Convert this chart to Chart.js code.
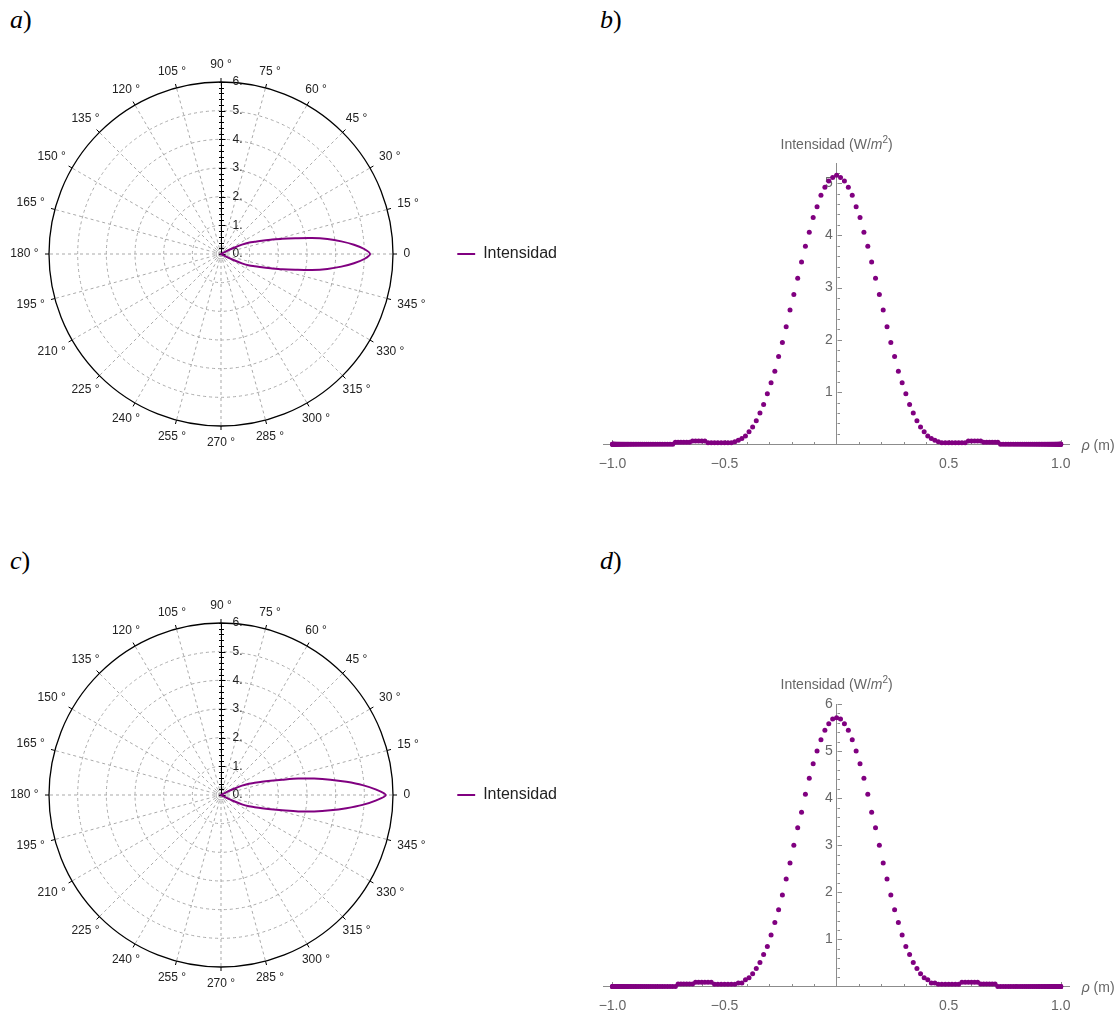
<!DOCTYPE html>
<html>
<head>
<meta charset="utf-8">
<title>Intensidad</title>
<script src="https://cdn.jsdelivr.net/npm/chart.js@4.4.1/dist/chart.umd.min.js"></script>
<style>
  html, body { margin: 0; padding: 0; background: #fff; }
  body { width: 1120px; height: 1011px; position: relative; overflow: hidden; }
  canvas { position: absolute; }
  .panel-label { position: absolute; font-family: "Liberation Serif", serif; font-size: 26px; line-height: 26px; color: #000; }
</style>
</head>
<body>
<div class="panel-label" style="left:10px;top:7px"><i>a</i>)</div>
<div class="panel-label" style="left:600px;top:7px"><i>b</i>)</div>
<div class="panel-label" style="left:10px;top:548px"><i>c</i>)</div>
<div class="panel-label" style="left:600px;top:548px"><i>d</i>)</div>

<canvas id="polarA" width="582" height="432" style="left:-14px;top:38px"></canvas>
<canvas id="scatterB" width="540" height="370" style="left:580px;top:120px"></canvas>
<canvas id="polarC" width="582" height="432" style="left:-14px;top:579px"></canvas>
<canvas id="scatterD" width="540" height="351" style="left:580px;top:660px"></canvas>

<script>
const PURPLE = '#800080';
const AXIS_GRAY = '#8c8c8c';
const TICK_GRAY = '#666';

// polar panels a) and c): radius of the lobe against angle (degrees)
const lobeAngles = [-32, -30, -28, -26, -24, -22, -20, -18, -16, -14, -12, -10, -8, -6, -4, -2, 0,
    2, 4, 6, 8, 10, 12, 14, 16, 18, 20, 22, 24, 26, 28, 30, 32];
const lobeA = [0, 0.05, 0.2, 0.46, 0.8, 1.07, 1.25, 1.5, 1.8, 2.2, 2.65, 3.22, 3.75, 4.22, 4.65, 5.0, 5.2,
    5.0, 4.65, 4.22, 3.75, 3.22, 2.65, 2.2, 1.8, 1.5, 1.25, 1.07, 0.8, 0.46, 0.2, 0.05, 0];
const lobeC = [0, 0.05, 0.2, 0.46, 0.8, 1.05, 1.25, 1.5, 1.8, 2.2, 2.75, 3.3, 3.85, 4.4, 4.95, 5.42, 5.75,
    5.42, 4.95, 4.4, 3.85, 3.3, 2.75, 2.2, 1.8, 1.5, 1.25, 1.05, 0.8, 0.46, 0.2, 0.05, 0];
const angleTickLabels = ['0', '15 °', '30 °', '45 °', '60 °', '75 °', '90 °', '105 °', '120 °', '135 °',
    '150 °', '165 °', '180 °', '195 °', '210 °', '225 °', '240 °', '255 °', '270 °', '285 °', '300 °',
    '315 °', '330 °', '345 °'];
const radialTickLabels = ['0.', '1.', '2.', '3.', '4.', '5.', '6.'];

// scatter panels b) and d): rho (m) and intensity (W/m^2)
const rho = [
    -1.0, -0.9998, -0.9994, -0.9986, -0.9976, -0.9962, -0.9945, -0.9925, -0.9903, -0.9877,
    -0.9848, -0.9816, -0.9781, -0.9744, -0.9703, -0.9659, -0.9613, -0.9563, -0.9511, -0.9455,
    -0.9397, -0.9336, -0.9272, -0.9205, -0.9135, -0.9063, -0.8988, -0.8910, -0.8829, -0.8746,
    -0.8660, -0.8572, -0.8480, -0.8387, -0.8290, -0.8192, -0.8090, -0.7986, -0.7880, -0.7771,
    -0.7660, -0.7547, -0.7431, -0.7314, -0.7193, -0.7071, -0.6947, -0.6820, -0.6691, -0.6561,
    -0.6428, -0.6293, -0.6157, -0.6018, -0.5878, -0.5736, -0.5592, -0.5446, -0.5299, -0.5150,
    -0.5000, -0.4848, -0.4695, -0.4540, -0.4384, -0.4226, -0.4067, -0.3907, -0.3746, -0.3584,
    -0.3420, -0.3256, -0.3090, -0.2924, -0.2756, -0.2588, -0.2419, -0.2250, -0.2079, -0.1908,
    -0.1736, -0.1564, -0.1392, -0.1219, -0.1045, -0.0872, -0.0698, -0.0523, -0.0349, -0.0175,
    0,
    0.0175, 0.0349, 0.0523, 0.0698, 0.0872, 0.1045, 0.1219, 0.1392, 0.1564, 0.1736,
    0.1908, 0.2079, 0.2250, 0.2419, 0.2588, 0.2756, 0.2924, 0.3090, 0.3256, 0.3420,
    0.3584, 0.3746, 0.3907, 0.4067, 0.4226, 0.4384, 0.4540, 0.4695, 0.4848, 0.5000,
    0.5150, 0.5299, 0.5446, 0.5592, 0.5736, 0.5878, 0.6018, 0.6157, 0.6293, 0.6428,
    0.6561, 0.6691, 0.6820, 0.6947, 0.7071, 0.7193, 0.7314, 0.7431, 0.7547, 0.7660,
    0.7771, 0.7880, 0.7986, 0.8090, 0.8192, 0.8290, 0.8387, 0.8480, 0.8572, 0.8660,
    0.8746, 0.8829, 0.8910, 0.8988, 0.9063, 0.9135, 0.9205, 0.9272, 0.9336, 0.9397,
    0.9455, 0.9511, 0.9563, 0.9613, 0.9659, 0.9703, 0.9744, 0.9781, 0.9816, 0.9848,
    0.9877, 0.9903, 0.9925, 0.9945, 0.9962, 0.9976, 0.9986, 0.9994, 0.9998, 1.0
];
const intensityB = [
    0, 0, 0, 0, 0, 0, 0, 0, 0, 0,
    0, 0, 0, 0, 0, 0, 0, 0, 0, 0,
    0, 0, 0, 0, 0, 0, 0, 0, 0, 0,
    0, 0, 0, 0, 0, 0, 0, 0, 0, 0,
    0, 0, 0, 0, 0.04, 0.04, 0.04, 0.04, 0.04, 0.04,
    0.063, 0.063, 0.063, 0.063, 0.063, 0.03, 0.03, 0.03, 0.03, 0.03,
    0.03, 0.03, 0.03, 0.05, 0.077, 0.11, 0.16, 0.24, 0.33, 0.45,
    0.60, 0.76, 0.97, 1.18, 1.40, 1.68, 1.95, 2.25, 2.57, 2.87,
    3.18, 3.49, 3.79, 4.06, 4.34, 4.55, 4.77, 4.92, 5.04, 5.11,
    5.15,
    5.11, 5.04, 4.92, 4.77, 4.55, 4.34, 4.06, 3.79, 3.49, 3.18,
    2.87, 2.57, 2.25, 1.95, 1.68, 1.40, 1.18, 0.97, 0.76, 0.60,
    0.45, 0.33, 0.24, 0.16, 0.11, 0.077, 0.05, 0.03, 0.03, 0.03,
    0.03, 0.03, 0.03, 0.03, 0.03, 0.063, 0.063, 0.063, 0.063, 0.063,
    0.04, 0.04, 0.04, 0.04, 0.04, 0.04, 0, 0, 0, 0,
    0, 0, 0, 0, 0, 0, 0, 0, 0, 0,
    0, 0, 0, 0, 0, 0, 0, 0, 0, 0,
    0, 0, 0, 0, 0, 0, 0, 0, 0, 0,
    0, 0, 0, 0, 0, 0, 0, 0, 0, 0
];
const intensityD = [
    0, 0, 0, 0, 0, 0, 0, 0, 0, 0,
    0, 0, 0, 0, 0, 0, 0, 0, 0, 0,
    0, 0, 0, 0, 0, 0, 0, 0, 0, 0,
    0, 0, 0, 0, 0, 0, 0, 0, 0, 0,
    0, 0, 0, 0, 0, 0.05, 0.05, 0.05, 0.05, 0.05,
    0.05, 0.087, 0.087, 0.087, 0.087, 0.087, 0.087, 0.045, 0.045, 0.045,
    0.045, 0.045, 0.045, 0.045, 0.072, 0.072, 0.14, 0.185, 0.27, 0.38,
    0.51, 0.68, 0.85, 1.09, 1.36, 1.63, 1.94, 2.28, 2.62, 3.00,
    3.37, 3.70, 4.08, 4.42, 4.73, 5.00, 5.24, 5.44, 5.58, 5.68,
    5.71,
    5.68, 5.58, 5.44, 5.24, 5.00, 4.73, 4.42, 4.08, 3.70, 3.37,
    3.00, 2.62, 2.28, 1.94, 1.63, 1.36, 1.09, 0.85, 0.68, 0.51,
    0.38, 0.27, 0.185, 0.14, 0.072, 0.072, 0.045, 0.045, 0.045, 0.045,
    0.045, 0.045, 0.045, 0.087, 0.087, 0.087, 0.087, 0.087, 0.087, 0.05,
    0.05, 0.05, 0.05, 0.05, 0.05, 0, 0, 0, 0, 0,
    0, 0, 0, 0, 0, 0, 0, 0, 0, 0,
    0, 0, 0, 0, 0, 0, 0, 0, 0, 0,
    0, 0, 0, 0, 0, 0, 0, 0, 0, 0,
    0, 0, 0, 0, 0, 0, 0, 0, 0, 0
];
const rhoTicks = [-1, -0.5, 0.5, 1];
const rhoTickLabels = ['\u22121.0', '\u22120.5', '0.5', '1.0'];
const intensityTicksB = [1, 2, 3, 4, 5];
const intensityTicksD = [1, 2, 3, 4, 5, 6];

Chart.defaults.font.family = '"Liberation Sans", Arial, sans-serif';
Chart.defaults.animation = false;
Chart.defaults.events = [];

const FONT = '"Liberation Sans", Arial, sans-serif';

// draws a run of text pieces with their own fonts, centred or left aligned
function drawRich(ctx, parts, x, y, align) {
    let total = 0;
    parts.forEach(p => { ctx.font = p.font; p.w = ctx.measureText(p.text).width; total += p.w; });
    let cx = align === 'center' ? x - total / 2 : x;
    ctx.textAlign = 'left';
    ctx.textBaseline = 'middle';
    parts.forEach(p => {
        ctx.font = p.font;
        ctx.fillText(p.text, cx, y + (p.dy || 0));
        cx += p.w;
    });
}

// frame ticks, angle labels, radial axis and its labels for the polar panels
const polarDecor = {
    id: 'polarDecor',
    beforeDatasetsDraw(chart) {
        const r = chart.scales.r;
        const ctx = chart.ctx;
        const cx = r.xCenter, cy = r.yCenter;
        const R = r.getDistanceFromCenterForValue(r.max);
        ctx.save();
        ctx.lineWidth = 1;
        ctx.setLineDash([]);

        // ticks on the outer circle
        ctx.strokeStyle = '#000';
        ctx.beginPath();
        chart.data.labels.forEach((lab, i) => {
            if (!lab) return;
            const p1 = r.getPointPosition(i, R);
            const p2 = r.getPointPosition(i, R + 4);
            ctx.moveTo(p1.x, p1.y);
            ctx.lineTo(p2.x, p2.y);
        });
        ctx.stroke();

        // angle labels, centred on their ray just outside the frame
        ctx.fillStyle = '#222';
        ctx.font = '12px ' + FONT;
        ctx.textAlign = 'center';
        ctx.textBaseline = 'middle';
        chart.data.labels.forEach((lab, i) => {
            if (!lab) return;
            const u = r.getPointPosition(i, 1);
            const ux = Math.abs(u.x - cx), uy = Math.abs(u.y - cy);
            const w = ctx.measureText(lab).width, h = 13;
            const reach = Math.min(ux > 1e-6 ? w / 2 / ux : 1e9, uy > 1e-6 ? h / 2 / uy : 1e9);
            const p = r.getPointPosition(i, R + 10.5 + reach);
            ctx.fillText(lab, p.x, p.y);
        });

        // little ring at the origin
        ctx.strokeStyle = '#aaa';
        ctx.beginPath();
        ctx.arc(cx, cy, 5, 0, Math.PI * 2);
        ctx.stroke();

        // radial axis pointing up
        const ax = Math.round(cx) + 0.5;
        ctx.strokeStyle = '#000';
        ctx.beginPath();
        ctx.moveTo(ax, cy);
        ctx.lineTo(ax, cy - R);
        for (let k = 0; k <= r.max * 5; k++) {
            const py = Math.round(cy - r.getDistanceFromCenterForValue(k / 5)) + 0.5;
            const major = k % 5 === 0;
            ctx.moveTo(ax - 2.5, py);
            ctx.lineTo(ax + (major ? 4 : 2.5), py);
        }
        ctx.stroke();

        ctx.textAlign = 'left';
        radialTickLabels.forEach((t, v) => {
            ctx.fillText(t, ax + 11, cy - r.getDistanceFromCenterForValue(v));
        });
        ctx.restore();
    }
};

function makePolar(id, lobe) {
    const labels = [];
    const values = [];
    // index i sits at (90 - i) degrees, so the angle grows anticlockwise from the right
    for (let i = 0; i < 360; i++) {
        const deg = (450 - i) % 360;
        labels.push(deg % 15 === 0 ? angleTickLabels[deg / 15] : '');
        values.push(null);
    }
    lobeAngles.forEach((a, j) => { values[(450 - a) % 360] = lobe[j]; });

    return new Chart(document.getElementById(id), {
        type: 'radar',
        data: {
            labels: labels,
            datasets: [{
                label: 'Intensidad',
                data: values,
                borderColor: PURPLE,
                backgroundColor: PURPLE,
                pointBorderColor: PURPLE,
                pointBorderWidth: 2,
                borderWidth: 2,
                pointRadius: 0,
                fill: false,
                spanGaps: true,
                tension: 0.3
            }]
        },
        options: {
            responsive: false,
            layout: { padding: { top: 44, bottom: 44, left: 0, right: 1 } },
            plugins: {
                legend: {
                    position: 'right',
                    labels: {
                        usePointStyle: true,
                        pointStyle: 'line',
                        pointStyleWidth: 18,
                        padding: 0,
                        color: '#222',
                        font: { size: 16 }
                    }
                },
                tooltip: { enabled: false }
            },
            scales: {
                r: {
                    min: 0,
                    max: 6,
                    startAngle: 0,
                    ticks: { display: false, stepSize: 1 },
                    grid: {
                        circular: true,
                        color: c => c.tick.value === 6 ? '#000' : '#aaa',
                        lineWidth: c => c.tick.value === 6 ? 1.3 : 1
                    },
                    border: { dash: c => c.tick.value === 6 ? [] : [3, 3] },
                    angleLines: {
                        color: '#aaa',
                        lineWidth: c => c.label ? 1 : 0,
                        borderDash: [3, 3]
                    },
                    pointLabels: { display: false }
                }
            }
        },
        plugins: [polarDecor]
    });
}

// inward ticks, axis title and rho label for the scatter panels
const cartesianDecor = {
    id: 'cartesianDecor',
    beforeDatasetsDraw(chart) {
        const {ctx, scales: {x, y}} = chart;
        const x0 = Math.round(x.getPixelForValue(0)) + 0.5;
        const y0 = Math.round(y.getPixelForValue(0)) + 0.5;
        ctx.save();
        ctx.strokeStyle = AXIS_GRAY;
        ctx.lineWidth = 1;
        ctx.beginPath();
        x.ticks.forEach(t => {
            if (Math.abs(t.value) < 1e-9) return;
            const major = Math.abs(t.value * 2 - Math.round(t.value * 2)) < 1e-6;
            const px = Math.round(x.getPixelForValue(t.value)) + 0.5;
            ctx.moveTo(px, y0);
            ctx.lineTo(px, y0 - (major ? 4.5 : 2.5));
        });
        y.ticks.forEach(t => {
            if (Math.abs(t.value) < 1e-9) return;
            const major = Math.abs(t.value - Math.round(t.value)) < 1e-6;
            const py = Math.round(y.getPixelForValue(t.value)) + 0.5;
            ctx.moveTo(x0, py);
            ctx.lineTo(x0 + (major ? 4.5 : 2.5), py);
        });
        ctx.stroke();
        ctx.restore();
    },
    afterDraw(chart) {
        const {ctx, chartArea, scales: {x, y}} = chart;
        ctx.save();
        ctx.fillStyle = TICK_GRAY;
        drawRich(ctx, [
            { text: 'Intensidad (W/', font: '14px ' + FONT },
            { text: 'm', font: 'italic 14px ' + FONT },
            { text: '2', font: '10px ' + FONT, dy: -5 },
            { text: ')', font: '14px ' + FONT }
        ], x.getPixelForValue(0), chartArea.top - 18.5, 'center');
        drawRich(ctx, [
            { text: '\u03C1', font: 'italic 14px ' + FONT },
            { text: ' (m)', font: '14px ' + FONT }
        ], chartArea.right + 12, y.getPixelForValue(0) + 2, 'left');
        ctx.restore();
    }
};

function makeScatter(id, values, yMax, yTicks, padTop, padBottom) {
    const points = rho.map((r, i) => ({ x: r, y: values[i] }));
    return new Chart(document.getElementById(id), {
        type: 'scatter',
        data: {
            datasets: [{
                data: points,
                backgroundColor: PURPLE,
                pointRadius: 2.5,
                pointBorderWidth: 0,
                clip: false
            }]
        },
        options: {
            responsive: false,
            layout: { padding: { left: 23.5, right: 50.3, top: padTop, bottom: padBottom } },
            plugins: { legend: { display: false }, tooltip: { enabled: false } },
            scales: {
                x: {
                    type: 'linear',
                    axis: 'x',
                    position: { y: 0 },
                    min: -1.04,
                    max: 1.04,
                    grid: { display: false, drawTicks: false },
                    border: { color: AXIS_GRAY },
                    ticks: {
                        stepSize: 0.1,
                        includeBounds: false,
                        autoSkip: false,
                        maxRotation: 0,
                        padding: 11,
                        color: TICK_GRAY,
                        font: { size: 14 },
                        callback: v => {
                            const i = rhoTicks.findIndex(t => Math.abs(t - v) < 1e-6);
                            return i < 0 ? '' : rhoTickLabels[i];
                        }
                    }
                },
                y: {
                    type: 'linear',
                    axis: 'y',
                    position: { x: 0 },
                    min: 0,
                    max: yMax,
                    grid: { display: false, drawTicks: false },
                    border: { color: AXIS_GRAY },
                    ticks: {
                        stepSize: 0.2,
                        includeBounds: false,
                        autoSkip: false,
                        color: TICK_GRAY,
                        font: { size: 14 },
                        callback: v => {
                            const i = yTicks.findIndex(t => Math.abs(t - v) < 1e-6);
                            return i < 0 ? '' : yTicks[i] + ' ';
                        }
                    }
                }
            }
        },
        plugins: [cartesianDecor]
    });
}

makePolar('polarA', lobeA);
makePolar('polarC', lobeC);
makeScatter('scatterB', intensityB, 5.38, intensityTicksB, 43.3, 45.7);
makeScatter('scatterD', intensityD, 6, intensityTicksD, 44, 24.6);
</script>
</body>
</html>
